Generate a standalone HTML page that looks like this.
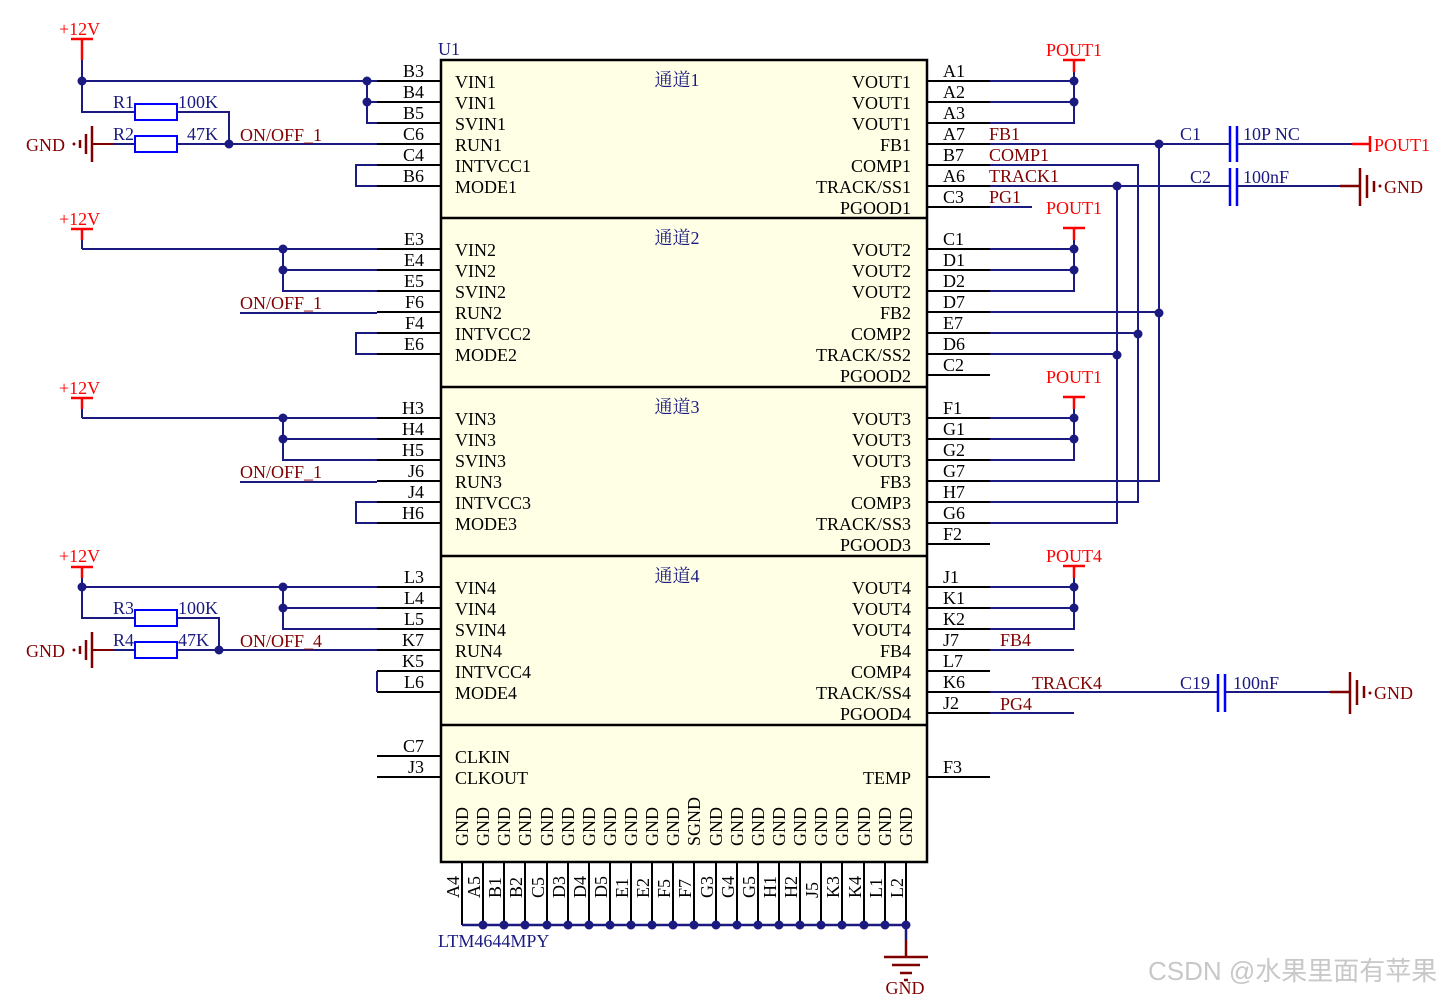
<!DOCTYPE html>
<html><head><meta charset="utf-8"><style>
html,body{margin:0;padding:0;background:#fff}
svg{display:block}
text{font-family:"Liberation Serif","Noto Serif CJK SC",serif;font-size:18px}
.pl{fill:#000}
.nv{fill:#1a1a80}
.nr{fill:#800000}
.rd{fill:#ff0000}
</style></head><body>
<svg width="1446" height="996" viewBox="0 0 1446 996" xmlns="http://www.w3.org/2000/svg">
<defs>
<g id="lpins">
<path d="M377 81H441M377 102H441M377 123H441M377 144H441M377 165H441M377 186H441" stroke="#000" stroke-width="2" fill="none"/>
</g>
<g id="rpins">
<path d="M927 81H990M927 102H990M927 123H990M927 144H990M927 165H990M927 186H990M927 207H990" stroke="#000" stroke-width="2" fill="none"/>
</g>
<g id="vout">
<path d="M990 81H1074M990 102H1074M990 123H1074V72" stroke="#1a1a80" stroke-width="2" fill="none"/>
<path d="M1074 72V60M1063 60H1085" stroke="#ff0000" stroke-width="2.5" fill="none"/>
<circle cx="1074" cy="81" r="4.5" fill="#1a1a80"/><circle cx="1074" cy="102" r="4.5" fill="#1a1a80"/>
</g>
<g id="vin">
<path d="M82 81H377" stroke="#1a1a80" stroke-width="2" fill="none"/>
<path d="M82 61V72M71 61H93" stroke="#ff0000" stroke-width="2.5" fill="none"/>
<path d="M82 72V81" stroke="#1a1a80" stroke-width="2"/>
</g>
<g id="gndL">
<path d="M92 126V162M86 134V154M80 140V148" stroke="#800000" stroke-width="2.5" fill="none"/>
<circle cx="74" cy="144" r="1.5" fill="#800000"/>
<path d="M92 144H113" stroke="#800000" stroke-width="2"/>
</g>
</defs>

<rect x="441" y="60" width="486" height="802" fill="#ffffe6" stroke="#000" stroke-width="2.5"/>
<path d="M441 218H927M441 387H927M441 556H927M441 725H927" stroke="#000" stroke-width="2.5"/>
<text x="438" y="55" class="nv">U1</text>

<use href="#lpins"/><use href="#lpins" y="168"/><use href="#lpins" y="337"/><use href="#lpins" y="506"/>
<use href="#rpins"/><use href="#rpins" y="168"/><use href="#rpins" y="337"/><use href="#rpins" y="506"/>
<path d="M377 756H441M377 777H441M927 777H990" stroke="#000" stroke-width="2"/>

<!-- Section 1 left -->
<path d="M82 39V60M71 39H93" stroke="#ff0000" stroke-width="2.5" fill="none"/>
<path d="M82 60V112H135M82 81H377M177 112H229V144M113 144H135M177 144H377M367 81V123H377M367 102H377M377 165H356V186H377" stroke="#1a1a80" stroke-width="2" fill="none"/>
<rect x="135" y="104" width="42" height="16" fill="none" stroke="#0000ff" stroke-width="2"/>
<rect x="135" y="136" width="42" height="16" fill="none" stroke="#0000ff" stroke-width="2"/>
<circle cx="82" cy="81" r="4.5" fill="#1a1a80"/><circle cx="367" cy="81" r="4.5" fill="#1a1a80"/><circle cx="367" cy="102" r="4.5" fill="#1a1a80"/><circle cx="229" cy="144" r="4.5" fill="#1a1a80"/>
<use href="#gndL"/>
<text x="26" y="151" class="nr">GND</text>
<text x="113" y="108" class="nv">R1</text><text x="178" y="108" class="nv">100K</text>
<text x="113" y="140" class="nv">R2</text><text x="187" y="140" class="nv">47K</text>
<text x="240" y="141" class="nr">ON/OFF_1</text>
<text x="59" y="35" class="rd">+12V</text>

<g transform="translate(0,168)">
<use href="#vin"/>
<path d="M283 81V123H377M283 102H377M240 145H377M377 165H356V186H377" stroke="#1a1a80" stroke-width="2" fill="none"/>
<circle cx="283" cy="81" r="4.5" fill="#1a1a80"/><circle cx="283" cy="102" r="4.5" fill="#1a1a80"/>
<text x="240" y="141" class="nr">ON/OFF_1</text>
<text x="59" y="57" class="rd">+12V</text>
</g>
<g transform="translate(0,337)">
<use href="#vin"/>
<path d="M283 81V123H377M283 102H377M240 145H377M377 165H356V186H377" stroke="#1a1a80" stroke-width="2" fill="none"/>
<circle cx="283" cy="81" r="4.5" fill="#1a1a80"/><circle cx="283" cy="102" r="4.5" fill="#1a1a80"/>
<text x="240" y="141" class="nr">ON/OFF_1</text>
<text x="59" y="57" class="rd">+12V</text>
</g>
<g transform="translate(0,506)">
<use href="#vin"/>
<path d="M82 81V112H135M177 112H219V144M113 144H135M177 144H377M283 81V123H377M283 102H377" stroke="#1a1a80" stroke-width="2" fill="none"/>
<rect x="135" y="104" width="42" height="16" fill="none" stroke="#0000ff" stroke-width="2"/>
<rect x="135" y="136" width="42" height="16" fill="none" stroke="#0000ff" stroke-width="2"/>
<circle cx="82" cy="81" r="4.5" fill="#1a1a80"/><circle cx="283" cy="81" r="4.5" fill="#1a1a80"/><circle cx="283" cy="102" r="4.5" fill="#1a1a80"/><circle cx="219" cy="144" r="4.5" fill="#1a1a80"/>
<use href="#gndL"/>
<text x="26" y="151" class="nr">GND</text>
<text x="113" y="108" class="nv">R3</text><text x="178" y="108" class="nv">100K</text>
<text x="113" y="140" class="nv">R4</text><text x="178" y="140" class="nv">47K</text>
<text x="240" y="141" class="nr">ON/OFF_4</text>
<text x="59" y="56" class="rd">+12V</text>
</g>
<path d="M377 671V692" stroke="#1a1a80" stroke-width="2"/>

<use href="#vout"/><use href="#vout" y="168"/><use href="#vout" y="337"/><use href="#vout" y="506"/>
<text x="1046" y="56" class="rd">POUT1</text>
<text x="1046" y="214" class="rd">POUT1</text>
<text x="1046" y="383" class="rd">POUT1</text>
<text x="1046" y="562" class="rd">POUT4</text>

<path d="M990 144H1230M990 165H1138V502H990M990 186H1230M1117 186V523H990M1159 144V481H990M990 312H1159M990 333H1138M990 354H1117M990 207H1032M1237 144H1352M1237 186H1340" stroke="#1a1a80" stroke-width="2" fill="none"/>
<circle cx="1159" cy="144" r="4.5" fill="#1a1a80"/><circle cx="1117" cy="186" r="4.5" fill="#1a1a80"/>
<circle cx="1159" cy="313" r="4.5" fill="#1a1a80"/><circle cx="1138" cy="334" r="4.5" fill="#1a1a80"/><circle cx="1117" cy="355" r="4.5" fill="#1a1a80"/>
<path d="M1230 126V162M1237 126V162M1230 168V206M1237 168V206" stroke="#0000ff" stroke-width="2.5"/>
<path d="M1352 144H1370M1370 136V152" stroke="#ff0000" stroke-width="2.5"/>
<text x="1374" y="151" class="rd">POUT1</text>
<path d="M1340 186H1360M1360 168V206M1367 175V198M1374 181V192" stroke="#800000" stroke-width="2.5" fill="none"/>
<circle cx="1380" cy="186" r="1.5" fill="#800000"/>
<text x="1384" y="193" class="nr">GND</text>
<text x="1180" y="140" class="nv">C1</text><text x="1243" y="140" class="nv">10P NC</text>
<text x="1190" y="183" class="nv">C2</text><text x="1243" y="183" class="nv">100nF</text>
<text x="989" y="140" class="nr">FB1</text><text x="989" y="161" class="nr">COMP1</text><text x="989" y="182" class="nr">TRACK1</text><text x="989" y="203" class="nr">PG1</text>

<path d="M990 650H1074M990 692H1218M1225 692H1330M990 713H1074" stroke="#1a1a80" stroke-width="2" fill="none"/>
<path d="M1218 674V712M1225 674V712" stroke="#0000ff" stroke-width="2.5"/>
<path d="M1330 692H1350M1350 672V714M1357 680V705M1364 686V698" stroke="#800000" stroke-width="2.5" fill="none"/>
<circle cx="1370" cy="693" r="1.5" fill="#800000"/>
<text x="1374" y="699" class="nr">GND</text>
<text x="1000" y="646" class="nr">FB4</text><text x="1032" y="689" class="nr">TRACK4</text><text x="1000" y="710" class="nr">PG4</text>
<text x="1180" y="689" class="nv">C19</text><text x="1233" y="689" class="nv">100nF</text>

<g class="pl" text-anchor="end">
<text x="424" y="77">B3</text><text x="424" y="98">B4</text><text x="424" y="119">B5</text><text x="424" y="140">C6</text><text x="424" y="161">C4</text><text x="424" y="182">B6</text>
<text x="424" y="245">E3</text><text x="424" y="266">E4</text><text x="424" y="287">E5</text><text x="424" y="308">F6</text><text x="424" y="329">F4</text><text x="424" y="350">E6</text>
<text x="424" y="414">H3</text><text x="424" y="435">H4</text><text x="424" y="456">H5</text><text x="424" y="477">J6</text><text x="424" y="498">J4</text><text x="424" y="519">H6</text>
<text x="424" y="583">L3</text><text x="424" y="604">L4</text><text x="424" y="625">L5</text><text x="424" y="646">K7</text><text x="424" y="667">K5</text><text x="424" y="688">L6</text>
<text x="424" y="752">C7</text><text x="424" y="773">J3</text>
</g>
<g class="pl">
<text x="943" y="77">A1</text><text x="943" y="98">A2</text><text x="943" y="119">A3</text><text x="943" y="140">A7</text><text x="943" y="161">B7</text><text x="943" y="182">A6</text><text x="943" y="203">C3</text>
<text x="943" y="245">C1</text><text x="943" y="266">D1</text><text x="943" y="287">D2</text><text x="943" y="308">D7</text><text x="943" y="329">E7</text><text x="943" y="350">D6</text><text x="943" y="371">C2</text>
<text x="943" y="414">F1</text><text x="943" y="435">G1</text><text x="943" y="456">G2</text><text x="943" y="477">G7</text><text x="943" y="498">H7</text><text x="943" y="519">G6</text><text x="943" y="540">F2</text>
<text x="943" y="583">J1</text><text x="943" y="604">K1</text><text x="943" y="625">K2</text><text x="943" y="646">J7</text><text x="943" y="667">L7</text><text x="943" y="688">K6</text><text x="943" y="709">J2</text>
<text x="943" y="773">F3</text>
</g>

<g class="pl">
<text x="455" y="88">VIN1</text><text x="455" y="109">VIN1</text><text x="455" y="130">SVIN1</text><text x="455" y="151">RUN1</text><text x="455" y="172">INTVCC1</text><text x="455" y="193">MODE1</text>
<text x="455" y="256">VIN2</text><text x="455" y="277">VIN2</text><text x="455" y="298">SVIN2</text><text x="455" y="319">RUN2</text><text x="455" y="340">INTVCC2</text><text x="455" y="361">MODE2</text>
<text x="455" y="425">VIN3</text><text x="455" y="446">VIN3</text><text x="455" y="467">SVIN3</text><text x="455" y="488">RUN3</text><text x="455" y="509">INTVCC3</text><text x="455" y="530">MODE3</text>
<text x="455" y="594">VIN4</text><text x="455" y="615">VIN4</text><text x="455" y="636">SVIN4</text><text x="455" y="657">RUN4</text><text x="455" y="678">INTVCC4</text><text x="455" y="699">MODE4</text>
<text x="455" y="763">CLKIN</text><text x="455" y="784">CLKOUT</text>
</g>
<g class="pl" text-anchor="end">
<text x="911" y="88">VOUT1</text><text x="911" y="109">VOUT1</text><text x="911" y="130">VOUT1</text><text x="911" y="151">FB1</text><text x="911" y="172">COMP1</text><text x="911" y="193">TRACK/SS1</text><text x="911" y="214">PGOOD1</text>
<text x="911" y="256">VOUT2</text><text x="911" y="277">VOUT2</text><text x="911" y="298">VOUT2</text><text x="911" y="319">FB2</text><text x="911" y="340">COMP2</text><text x="911" y="361">TRACK/SS2</text><text x="911" y="382">PGOOD2</text>
<text x="911" y="425">VOUT3</text><text x="911" y="446">VOUT3</text><text x="911" y="467">VOUT3</text><text x="911" y="488">FB3</text><text x="911" y="509">COMP3</text><text x="911" y="530">TRACK/SS3</text><text x="911" y="551">PGOOD3</text>
<text x="911" y="594">VOUT4</text><text x="911" y="615">VOUT4</text><text x="911" y="636">VOUT4</text><text x="911" y="657">FB4</text><text x="911" y="678">COMP4</text><text x="911" y="699">TRACK/SS4</text><text x="911" y="720">PGOOD4</text>
<text x="911" y="784">TEMP</text>
</g>
<g class="nv" text-anchor="middle" style="font-size:19px">
<text x="677" y="86">通道1</text><text x="677" y="244">通道2</text><text x="677" y="413">通道3</text><text x="677" y="582">通道4</text>
</g>

<path d="M462 862V925M483 862V925M504 862V925M525 862V925M547 862V925M568 862V925M589 862V925M610 862V925M631 862V925M652 862V925M673 862V925M694 862V925M716 862V925M737 862V925M758 862V925M779 862V925M800 862V925M821 862V925M842 862V925M864 862V925M885 862V925M906 862V925" stroke="#000" stroke-width="2"/>
<path d="M462 925H906V940" stroke="#1a1a80" stroke-width="2.5" fill="none"/>
<g fill="#1a1a80">
<circle cx="483" cy="925" r="4.5"/><circle cx="504" cy="925" r="4.5"/><circle cx="525" cy="925" r="4.5"/><circle cx="547" cy="925" r="4.5"/><circle cx="568" cy="925" r="4.5"/><circle cx="589" cy="925" r="4.5"/><circle cx="610" cy="925" r="4.5"/><circle cx="631" cy="925" r="4.5"/><circle cx="652" cy="925" r="4.5"/><circle cx="673" cy="925" r="4.5"/><circle cx="694" cy="925" r="4.5"/><circle cx="716" cy="925" r="4.5"/><circle cx="737" cy="925" r="4.5"/><circle cx="758" cy="925" r="4.5"/><circle cx="779" cy="925" r="4.5"/><circle cx="800" cy="925" r="4.5"/><circle cx="821" cy="925" r="4.5"/><circle cx="842" cy="925" r="4.5"/><circle cx="864" cy="925" r="4.5"/><circle cx="885" cy="925" r="4.5"/><circle cx="906" cy="925" r="4.5"/>
</g>
<path d="M906 940V957M884 957H928M892 965H920M900 973H912M904 980H908" stroke="#800000" stroke-width="2.5" fill="none"/>
<text x="905" y="994" text-anchor="middle" class="nr">GND</text>
<text x="438" y="947" class="nv">LTM4644MPY</text>

<g class="pl">
<text transform="translate(459,898) rotate(-90)">A4</text>
<text transform="translate(480,898) rotate(-90)">A5</text>
<text transform="translate(501,898) rotate(-90)">B1</text>
<text transform="translate(522,898) rotate(-90)">B2</text>
<text transform="translate(544,898) rotate(-90)">C5</text>
<text transform="translate(565,898) rotate(-90)">D3</text>
<text transform="translate(586,898) rotate(-90)">D4</text>
<text transform="translate(607,898) rotate(-90)">D5</text>
<text transform="translate(628,898) rotate(-90)">E1</text>
<text transform="translate(649,898) rotate(-90)">E2</text>
<text transform="translate(670,898) rotate(-90)">F5</text>
<text transform="translate(691,898) rotate(-90)">F7</text>
<text transform="translate(713,898) rotate(-90)">G3</text>
<text transform="translate(734,898) rotate(-90)">G4</text>
<text transform="translate(755,898) rotate(-90)">G5</text>
<text transform="translate(776,898) rotate(-90)">H1</text>
<text transform="translate(797,898) rotate(-90)">H2</text>
<text transform="translate(818,898) rotate(-90)">J5</text>
<text transform="translate(839,898) rotate(-90)">K3</text>
<text transform="translate(861,898) rotate(-90)">K4</text>
<text transform="translate(882,898) rotate(-90)">L1</text>
<text transform="translate(903,898) rotate(-90)">L2</text>
</g>
<g class="pl">
<text transform="translate(468,846) rotate(-90)">GND</text>
<text transform="translate(489,846) rotate(-90)">GND</text>
<text transform="translate(510,846) rotate(-90)">GND</text>
<text transform="translate(531,846) rotate(-90)">GND</text>
<text transform="translate(553,846) rotate(-90)">GND</text>
<text transform="translate(574,846) rotate(-90)">GND</text>
<text transform="translate(595,846) rotate(-90)">GND</text>
<text transform="translate(616,846) rotate(-90)">GND</text>
<text transform="translate(637,846) rotate(-90)">GND</text>
<text transform="translate(658,846) rotate(-90)">GND</text>
<text transform="translate(679,846) rotate(-90)">GND</text>
<text transform="translate(700,846) rotate(-90)">SGND</text>
<text transform="translate(722,846) rotate(-90)">GND</text>
<text transform="translate(743,846) rotate(-90)">GND</text>
<text transform="translate(764,846) rotate(-90)">GND</text>
<text transform="translate(785,846) rotate(-90)">GND</text>
<text transform="translate(806,846) rotate(-90)">GND</text>
<text transform="translate(827,846) rotate(-90)">GND</text>
<text transform="translate(848,846) rotate(-90)">GND</text>
<text transform="translate(870,846) rotate(-90)">GND</text>
<text transform="translate(891,846) rotate(-90)">GND</text>
<text transform="translate(912,846) rotate(-90)">GND</text>
</g>

<text x="1148" y="980" style="font-family:'Liberation Sans','Noto Sans CJK SC',sans-serif;font-size:26px" fill="#c8c8c8">CSDN @水果里面有苹果</text>
</svg>
</body></html>
